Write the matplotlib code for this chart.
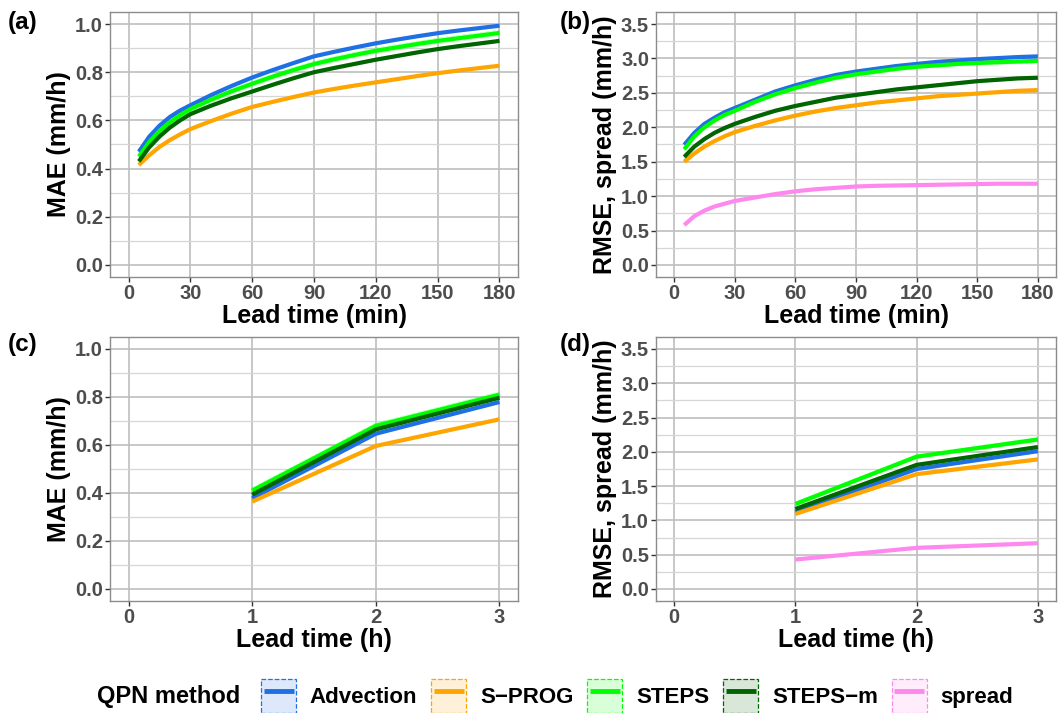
import matplotlib
matplotlib.use("Agg")
import matplotlib.pyplot as plt
from matplotlib.patches import Patch
from matplotlib.lines import Line2D
from matplotlib.ticker import MultipleLocator, FormatStrFormatter
import numpy as np

plt.rcParams['font.family'] = ['Liberation Sans', 'DejaVu Sans']

# ---- data ----
methods = ["Advection", "S\u2212PROG", "STEPS", "STEPS\u2212m", "spread"]
colors = ["#1F6FE5", "#FFA500", "#00FF00", "#006400", "#FF88EE"]

# 5-min lead times (panels a, b)
lead_min = [5, 10, 15, 20, 25, 30, 40, 50, 60, 70, 80, 90, 100, 110, 120, 130, 140, 150, 160, 170, 180]
mae_min = {
    "Advection":  [0.47, 0.532, 0.578, 0.614, 0.641, 0.663, 0.705, 0.743, 0.778, 0.809, 0.838, 0.866, 0.885, 0.903, 0.92, 0.935, 0.949, 0.962, 0.973, 0.983, 0.993],
    "S\u2212PROG": [0.415, 0.455, 0.49, 0.518, 0.542, 0.564, 0.597, 0.628, 0.656, 0.677, 0.697, 0.716, 0.731, 0.745, 0.758, 0.771, 0.784, 0.796, 0.807, 0.817, 0.827],
    "STEPS":      [0.45, 0.51, 0.556, 0.592, 0.622, 0.647, 0.686, 0.721, 0.752, 0.782, 0.809, 0.834, 0.854, 0.872, 0.889, 0.903, 0.917, 0.93, 0.941, 0.952, 0.963],
    "STEPS\u2212m": [0.43, 0.488, 0.533, 0.57, 0.60, 0.626, 0.661, 0.692, 0.72, 0.748, 0.775, 0.80, 0.818, 0.835, 0.852, 0.867, 0.882, 0.896, 0.908, 0.919, 0.93],
}
rmse_min = {
    "Advection":  [1.745, 1.92, 2.05, 2.14, 2.22, 2.28, 2.40, 2.52, 2.61, 2.69, 2.76, 2.81, 2.85, 2.89, 2.92, 2.95, 2.97, 2.99, 3.005, 3.02, 3.03],
    "S\u2212PROG": [1.50, 1.62, 1.72, 1.80, 1.87, 1.93, 2.02, 2.10, 2.17, 2.23, 2.28, 2.32, 2.36, 2.39, 2.42, 2.45, 2.47, 2.49, 2.51, 2.53, 2.54],
    "STEPS":      [1.68, 1.87, 2.00, 2.10, 2.18, 2.24, 2.37, 2.48, 2.57, 2.65, 2.72, 2.77, 2.81, 2.85, 2.88, 2.90, 2.92, 2.935, 2.945, 2.955, 2.965],
    "STEPS\u2212m": [1.57, 1.72, 1.83, 1.92, 1.99, 2.05, 2.15, 2.24, 2.31, 2.37, 2.43, 2.47, 2.51, 2.55, 2.58, 2.61, 2.64, 2.67, 2.69, 2.71, 2.72],
}
spread_min = [0.58, 0.71, 0.79, 0.85, 0.89, 0.93, 0.98, 1.03, 1.07, 1.10, 1.12, 1.14, 1.15, 1.155, 1.16, 1.165, 1.17, 1.175, 1.18, 1.18, 1.18]

# hourly lead times (panels c, d)
lead_h = [1, 2, 3]
mae_h = {
    "Advection":  [0.378, 0.647, 0.779],
    "S\u2212PROG": [0.364, 0.596, 0.707],
    "STEPS":      [0.41, 0.68, 0.81],
    "STEPS\u2212m": [0.393, 0.665, 0.797],
}
rmse_h = {
    "Advection":  [1.12, 1.75, 2.01],
    "S\u2212PROG": [1.094, 1.675, 1.89],
    "STEPS":      [1.24, 1.93, 2.18],
    "STEPS\u2212m": [1.167, 1.81, 2.07],
}
spread_h = [0.43, 0.60, 0.668]

# half-width of the (very narrow) uncertainty ribbons
ribbon_mae = {"Advection": 0.004, "S\u2212PROG": 0.004, "STEPS": 0.012, "STEPS\u2212m": 0.004}
ribbon_rmse = {"Advection": 0.02, "S\u2212PROG": 0.02, "STEPS": 0.03, "STEPS\u2212m": 0.02, "spread": 0.01}

TXT = "#4D4D4D"
fig = plt.figure(figsize=(10.61, 7.13), dpi=100)
W, H = 1061, 713


def add_axes(l, t, r, b):
    return fig.add_axes([l / W, 1 - b / H, (r - l) / W, (b - t) / H])


def style(ax, xlim, ylim, ymaj, xlabel, ylabel, xticks):
    ax.set_xlim(*xlim)
    ax.set_ylim(*ylim)
    ax.set_xticks(xticks)
    ax.yaxis.set_major_locator(MultipleLocator(ymaj))
    ax.yaxis.set_minor_locator(MultipleLocator(ymaj / 2))
    ax.yaxis.set_major_formatter(FormatStrFormatter("%.1f"))
    ax.grid(which="major", color="#BEBEBE", lw=1.2)
    ax.grid(which="minor", axis="y", color="#D6D6D6", lw=0.9)
    ax.set_axisbelow(True)
    for s in ax.spines.values():
        s.set_color("#8C8C8C")
        s.set_linewidth(1.0)
    ax.tick_params(which="major", colors="#333333", labelcolor=TXT, length=3.5, width=1,
                   labelsize=14.5, pad=1.5)
    ax.tick_params(which="minor", length=0)
    for lab in ax.get_xticklabels() + ax.get_yticklabels():
        lab.set_fontweight("bold")
    ax.set_xlabel(xlabel, fontsize=18, fontweight="bold", labelpad=1)
    ax.set_ylabel(ylabel, fontsize=18, fontweight="bold", labelpad=3)


def draw(ax, x, series, ribbons, spread=None):
    for name, col in zip(methods, colors):
        if name == "spread":
            if spread is None:
                continue
            y = np.array(spread)
        else:
            y = np.array(series[name])
        hw = ribbons.get(name, 0.0)
        ax.fill_between(x, y - hw, y + hw, facecolor=col, alpha=0.15, edgecolor=col,
                        linestyle="--", lw=0.8)
        ax.plot(x, y, color=col, lw=3.0, solid_capstyle="butt", solid_joinstyle="round", zorder=3)


ax_a = add_axes(110, 12, 518, 277)
ax_b = add_axes(656, 12, 1056, 277)
ax_c = add_axes(110, 337, 518, 601)
ax_d = add_axes(656, 337, 1056, 601)

draw(ax_a, lead_min, mae_min, ribbon_mae)
draw(ax_b, lead_min, rmse_min, ribbon_rmse, spread_min)
draw(ax_c, lead_h, mae_h, ribbon_mae)
draw(ax_d, lead_h, rmse_h, ribbon_rmse, spread_h)

style(ax_a, (-9, 189), (-0.05, 1.05), 0.2, "Lead time (min)", "MAE (mm/h)", range(0, 181, 30))
style(ax_b, (-9, 189), (-0.175, 3.675), 0.5, "Lead time (min)", "RMSE, spread (mm/h)", range(0, 181, 30))
style(ax_c, (-0.15, 3.15), (-0.05, 1.05), 0.2, "Lead time (h)", "MAE (mm/h)", range(0, 4))
style(ax_d, (-0.15, 3.15), (-0.175, 3.675), 0.5, "Lead time (h)", "RMSE, spread (mm/h)", range(0, 4))

for lab, (x, y) in zip(["(a)", "(b)", "(c)", "(d)"], [(8, 22), (560, 22), (8, 344), (560, 344)]):
    fig.text(x / W, 1 - y / H, lab, fontsize=17.5, fontweight="bold", va="center", ha="left")

# legend: light ribbon box with dashed edge + short line in the middle
handles = []
for col in colors:
    p = Patch(facecolor=col, alpha=0.15, edgecolor="none")
    e = Patch(facecolor="none", edgecolor=col, linestyle="--", lw=0.9)
    ln = Line2D([], [], color=col, marker="_", markersize=22, markeredgewidth=3.5, linestyle="none")
    handles.append((p, e, ln))
fig.text(97 / W, 1 - 697 / H, "QPN method", fontsize=17, fontweight="bold", va="center", ha="left")
leg = fig.legend(handles, methods, loc="center left", bbox_to_anchor=(261 / W, 1 - 696 / H),
                 ncol=5, frameon=False, fontsize=16, handlelength=1.58, handleheight=2.0,
                 columnspacing=0.62, handletextpad=0.62, borderaxespad=0, borderpad=0,
                 numpoints=1)
for t in leg.get_texts():
    t.set_fontweight("bold")

fig.savefig("out.png", dpi=100)
